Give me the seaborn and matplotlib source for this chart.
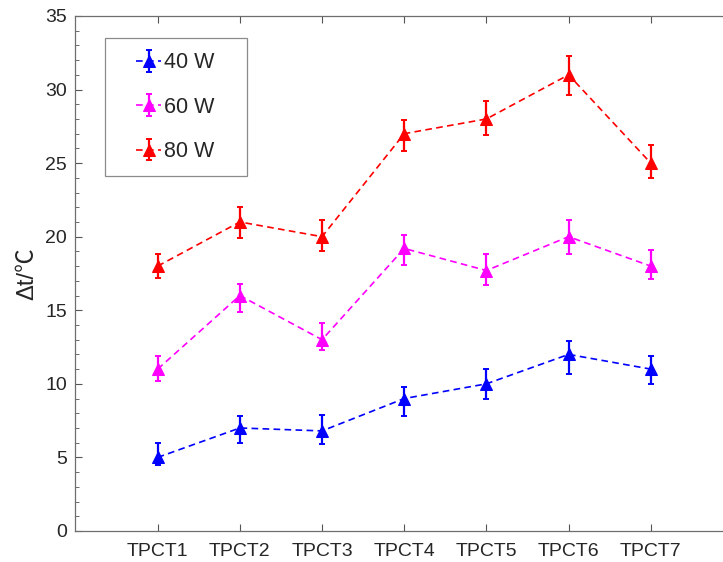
"""Temperature difference of TPCT1-7 at three heating powers, with error bars.

Outputs: out.png
"""
import numpy as np
import pandas as pd
import matplotlib
matplotlib.use("Agg")
import matplotlib.pyplot as plt
from matplotlib.legend_handler import HandlerTuple
from matplotlib.ticker import MultipleLocator
import seaborn as sns

TPCT = ["TPCT1", "TPCT2", "TPCT3", "TPCT4", "TPCT5", "TPCT6", "TPCT7"]
POWERS = ["40 W", "60 W", "80 W"]
COLORS = ["#0000ff", "#ff00ff", "#ff0000"]

# mean temperature difference and asymmetric error limits
DT_40 = [5.0, 7.0, 6.8, 9.0, 10.0, 12.0, 11.0]
LO_40 = [4.5, 6.0, 5.9, 7.8, 9.0, 10.7, 10.0]
HI_40 = [6.0, 7.8, 7.9, 9.8, 11.0, 12.9, 11.9]

DT_60 = [11.0, 16.0, 13.0, 19.2, 17.7, 20.0, 18.0]
LO_60 = [10.2, 14.9, 12.3, 18.1, 16.7, 18.8, 17.1]
HI_60 = [11.9, 16.8, 14.1, 20.1, 18.8, 21.1, 19.1]

DT_80 = [18.0, 21.0, 20.0, 27.0, 28.0, 31.0, 25.0]
LO_80 = [17.2, 19.9, 19.0, 25.8, 26.9, 29.6, 24.0]
HI_80 = [18.8, 22.0, 21.1, 27.9, 29.2, 32.3, 26.2]

SERIES = [(DT_40, LO_40, HI_40), (DT_60, LO_60, HI_60), (DT_80, LO_80, HI_80)]


def main():
    sns.set_theme(style="ticks")
    plt.rcParams["font.family"] = ["Liberation Sans", "Noto Sans CJK SC", "DejaVu Sans"]
    plt.rcParams.update({"font.size": 14, "xtick.direction": "in", "ytick.direction": "in"})

    df = pd.concat([
        pd.DataFrame({"tpct": TPCT, "x": np.arange(1, 8), "dt": dt, "lo": lo, "hi": hi, "power": p})
        for p, (dt, lo, hi) in zip(POWERS, SERIES)
    ], ignore_index=True)

    fig = plt.figure(figsize=(7.23, 5.62), dpi=100)
    # axes box runs a bit past the right edge like the cropped original
    ax = fig.add_axes([0.1044, 0.0552, 0.9094, 0.9164])

    handles = []
    for p, c in zip(POWERS, COLORS):
        d = df[df["power"] == p]
        sns.lineplot(data=d, x="x", y="dt", ax=ax, color=c, marker="^", markersize=8,
                     markeredgecolor=c, linewidth=1.2, dashes=False, legend=False)
        line = ax.lines[-1]
        line.set_dashes((4, 2.6))
        yerr = np.vstack([d["dt"] - d["lo"], d["hi"] - d["dt"]])
        eb = ax.errorbar(d["x"], d["dt"], yerr=yerr, fmt="none", ecolor=c,
                         elinewidth=1.6, capsize=2.4, capthick=1.4)
        handles.append((line, eb))

    ax.set_xlim(0, 8)
    ax.set_ylim(0, 35)
    ax.set_xticks(np.arange(1, 8))
    ax.set_xticklabels(TPCT)
    ax.yaxis.set_major_locator(MultipleLocator(5))
    ax.yaxis.set_minor_locator(MultipleLocator(1))
    ax.tick_params(axis="both", which="major", length=5, width=0.8, color="#555555",
                   labelsize=14, labelcolor="#262626", top=True, right=True)
    ax.tick_params(axis="y", which="minor", length=3, width=0.6, color="#555555",
                   left=True, right=True)
    ax.tick_params(axis="x", pad=9)
    ax.tick_params(axis="y", pad=6)
    for s in ax.spines.values():
        s.set_color("#6e6e6e")
        s.set_linewidth(0.9)
    ax.set_xlabel("")
    ax.set_ylabel("Δt/℃", fontsize=17, color="#262626", labelpad=5,
                  family=["Liberation Sans", "Noto Sans CJK SC"])

    # matlab-style legend: wide side padding, short dash-marker-dash handle
    leg = ax.legend(handles, [p + "   " for p in POWERS],
                    handler_map={tuple: HandlerTuple(ndivide=1, xpad=0.78)},
                    loc="upper left", bbox_to_anchor=(0.045, 0.957), fontsize=15.5,
                    frameon=True, fancybox=False, edgecolor="#6e6e6e",
                    handlelength=1.94, handletextpad=0.14, labelspacing=1.09,
                    borderpad=0.66, borderaxespad=0)
    leg.get_frame().set_linewidth(0.9)

    fig.savefig("out.png", dpi=100)
    plt.close(fig)


if __name__ == "__main__":
    main()
